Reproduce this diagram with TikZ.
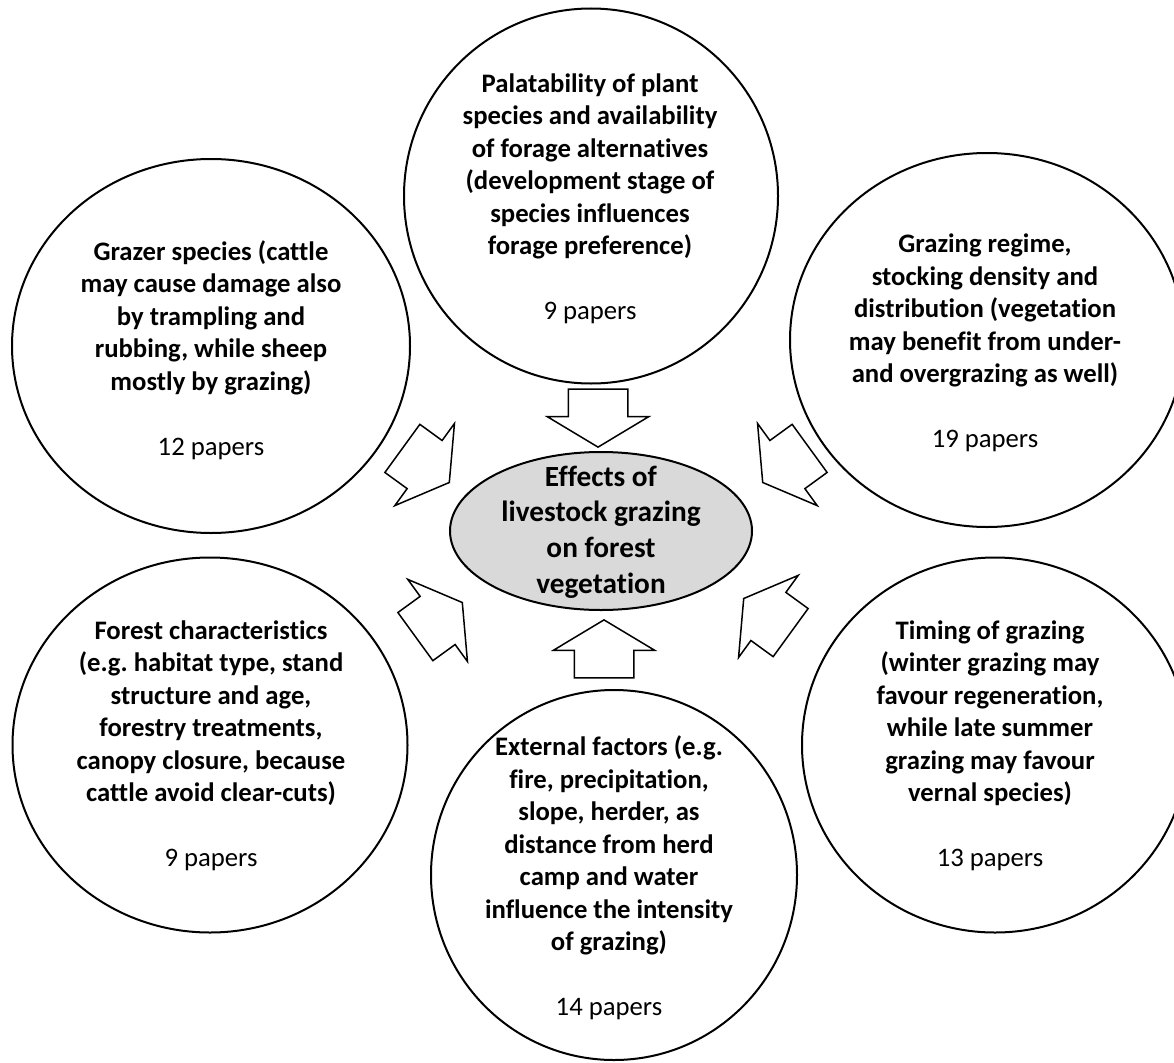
\documentclass[tikz,border=0pt]{standalone}
\usepackage{fontspec}
\setmainfont{Carlito}[Ligatures=CommonOff]
\usetikzlibrary{shapes.geometric,shapes.arrows}

\tikzset{
  factor/.style={ellipse, draw, line width=2pt, inner sep=0pt},
  factortext/.style={align=center, font=\bfseries\fontsize{26.7}{32.5}\selectfont},
  effect/.style={ellipse, draw, line width=2pt, fill=black!15, inner sep=0pt,
    minimum width=302pt, minimum height=158pt},
  effecttext/.style={align=center, font=\bfseries\fontsize{29.3}{35.7}\selectfont},
  flow/.style={single arrow, draw, line width=1.5pt, fill=white,
    inner xsep=0pt, inner ysep=29pt, minimum height=58pt,
    single arrow head extend=21pt, single arrow tip angle=118, anchor=tip}
}

\begin{document}
\frenchspacing
\begin{tikzpicture}[x=1pt,y=-1pt]
  \useasboundingbox (0,0) rectangle (1174,1062);

  % the six factors
  \node[factor, minimum width=374pt, minimum height=375pt] (palat)    at (591,196) {};
  \node[factor, minimum width=398pt, minimum height=374pt] (grazer)   at (211,346) {};
  \node[factor, minimum width=394pt, minimum height=374pt] (regime)   at (987,340) {};
  \node[factor, minimum width=395pt, minimum height=375pt] (forest)   at (210,745) {};
  \node[factor, minimum width=386pt, minimum height=375pt] (timing)   at (995,745) {};
  \node[factor, minimum width=366pt, minimum height=370pt] (external) at (614,875) {};

  \node[factortext] (palattxt) at (590,199) {Palatability of plant\\species and availability\\of forage alternatives\\(development stage of\\species influences\\forage preference)\\[32.5pt]\mdseries 9 papers};
  \node[factortext] (grazertxt) at (211,350) {Grazer species (cattle\\may cause damage also\\by trampling and\\rubbing, while sheep\\mostly by grazing)\\[32.5pt]\mdseries 12 papers};
  \node[factortext] (regimetxt) at (985,343) {Grazing regime,\\stocking density and\\distribution (vegetation\\may benefit from under-\\and overgrazing as well)\\[32.5pt]\mdseries 19 papers};
  \node[factortext] (foresttxt) at (211,746) {Forest characteristics\\(e.g. habitat type, stand\\structure and age,\\forestry treatments,\\canopy closure, because\\cattle avoid clear-cuts)\\[32.5pt]\mdseries 9 papers};
  \node[factortext] (timingtxt) at (990,746) {Timing of grazing\\(winter grazing may\\favour regeneration,\\while late summer\\grazing may favour\\vernal species)\\[32.5pt]\mdseries 13 papers};
  \node[factortext] (externaltxt) at (609,878) {External factors (e.g.\\fire, precipitation,\\slope, herder, as\\distance from herd\\camp and water\\influence the intensity\\of grazing)\\[32.5pt]\mdseries 14 papers};

  % centre
  \node[effect] (effects) at (601,531) {};
  \node[effecttext] (effectstxt) at (601,532) {Effects of\\livestock grazing\\on forest\\vegetation};

  % block arrows towards the centre
  \node[flow, rotate=-90]  (palatarrow)    at (598,448) {};
  \node[flow, rotate=90]   (externalarrow) at (604,619) {};
  \node[flow, rotate=-36]  (grazerarrow)   at (450,483) {};
  \node[flow, rotate=-144] (regimearrow)   at (762,483) {};
  \node[flow, rotate=36]   (forestarrow)   at (463,602) {};
  \node[flow, rotate=144]  (timingarrow)   at (743,598) {};
\end{tikzpicture}
\end{document}
